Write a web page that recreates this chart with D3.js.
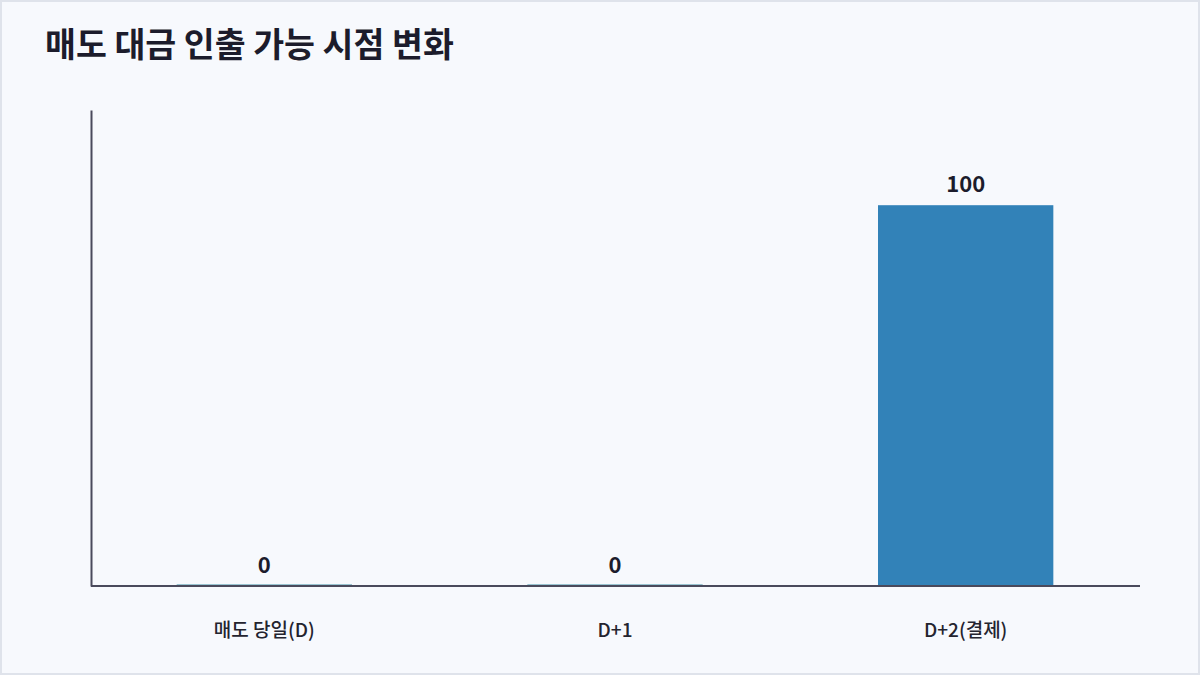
<!DOCTYPE html>
<html><head><meta charset="utf-8">
<script src="https://cdn.jsdelivr.net/npm/d3@7"></script>
<style>
html,body{margin:0;padding:0;background:#f7f9fd;}
svg{display:block;font-family:"Noto Sans CJK KR","Noto Sans",sans-serif;}
</style></head>
<body>
<svg id="chart" width="1200" height="675"></svg>
<script>
const categories = ["매도 당일(D)", "D+1", "D+2(결제)"];
const values = [0, 0, 100];
const title = "매도 대금 인출 가능 시점 변화";

const W = 1200, H = 675;
const margin = {top: 110, right: 60, bottom: 89, left: 91};
const svg = d3.select("#chart");

svg.append("rect").attr("x", 1).attr("y", 1).attr("width", W - 2).attr("height", H - 2)
  .attr("fill", "#f7f9fd").attr("stroke", "#dfe3eb").attr("stroke-width", 2);

svg.append("text").attr("x", 45).attr("y", 57)
  .attr("font-size", 33.6).attr("font-weight", 700).attr("fill", "#1c1c2c")
  .text(title);

const x = d3.scaleBand().domain(categories).range([89, W - margin.right + 1])
  .paddingInner(0.5).paddingOuter(0.25);
const y = d3.scaleLinear().domain([0, 125]).range([H - margin.bottom, margin.top]);

const g = svg.append("g");

g.selectAll("rect.bar").data(values).join("rect").attr("class", "bar")
  .attr("x", (d, i) => x(categories[i]))
  .attr("width", x.bandwidth())
  .attr("y", d => Math.min(y(d), y(0) - 1.5))
  .attr("height", d => Math.max(y(0) - y(d), 1.5))
  .attr("fill", (d) => d === 0 ? "#3d8fa6" : "#3282b8");

// axes
const xAxis = d3.axisBottom(x).tickSize(0).tickPadding(38);
const xg = svg.append("g").attr("transform", `translate(0,${y(0)})`).call(xAxis);
xg.select(".domain").attr("stroke", "#4a4a5c").attr("stroke-width", 2)
  .attr("d", `M${margin.left},0H${W - margin.right}`);
xg.selectAll("text").attr("font-size", 19).attr("font-weight", 500).attr("fill", "#24242f")
  .attr("font-family", '"Noto Sans CJK KR","Noto Sans",sans-serif');

const yAxis = d3.axisLeft(y).tickValues([]).tickSize(0);
const yg = svg.append("g").attr("transform", `translate(${margin.left},0)`).call(yAxis);
yg.select(".domain").attr("stroke", "#4a4a5c").attr("stroke-width", 2);

// value labels
g.selectAll("text.val").data(values).join("text").attr("class", "val")
  .attr("x", (d, i) => x(categories[i]) + x.bandwidth() / 2)
  .attr("y", d => y(d) - 13)
  .attr("text-anchor", "middle")
  .attr("font-size", 22).attr("font-weight", 700).attr("fill", "#1c1c2c")
  .text(d => d);
</script>
</body></html>
